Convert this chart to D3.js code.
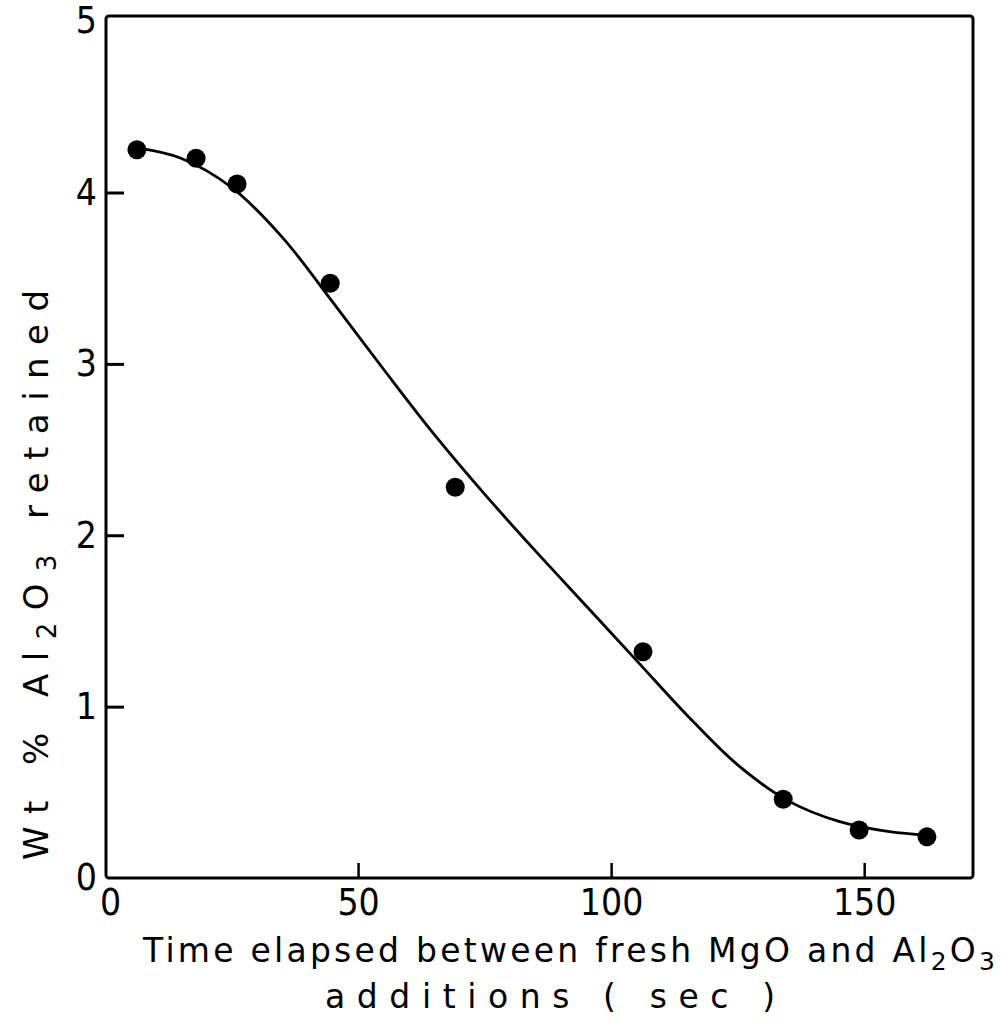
<!DOCTYPE html>
<html>
<head>
<meta charset="utf-8">
<script src="https://cdn.jsdelivr.net/npm/d3@7"></script>
<style>
  body { margin: 0; background: #fff; }
  text { font-family: "DejaVu Sans Condensed", "DejaVu Sans", sans-serif; fill: #000; }
  .title { font-family: "DejaVu Sans", sans-serif; }
</style>
</head>
<body>
<div id="chart"></div>
<script>
// measured points (time in s, wt % Al2O3 retained)
let timeSec = [6.3, 18.0, 26.1, 44.5, 69.2, 106.3, 134.0, 149.0, 162.4];
let wtPct = [4.25, 4.20, 4.05, 3.47, 2.28, 1.32, 0.46, 0.28, 0.24];

// hand-drawn fitted curve
let curveX = [6.3, 15, 25, 35, 45, 55, 65, 75, 85, 95, 105, 115, 125, 135, 145, 155, 162.4];
let curveY = [4.26, 4.20, 4.03, 3.74, 3.36, 2.97, 2.59, 2.24, 1.91, 1.59, 1.27, 0.95, 0.66, 0.45, 0.33, 0.27, 0.25];

let xTicks = [0, 50, 100, 150];
let yTicks = [0, 1, 2, 3, 4, 5];

const width = 1002, height = 1029;
const margin = {left: 106, right: 29, top: 16, bottom: 151};

let svg = d3.select("#chart")
    .append("svg")
    .attr("width", width)
    .attr("height", height);

let x = d3.scaleLinear()
    .domain([0, 171.5])
    .range([margin.left - 1, width - margin.right]);

let y = d3.scaleLinear()
    .domain([0, 5.03])
    .range([height - margin.bottom, margin.top]);

// y axis, ticks pointing inward
let yAxis = svg.append("g")
    .attr("transform", `translate(${margin.left}, 0)`)
    .call(d3.axisLeft(y).tickValues(yTicks).tickFormat(d3.format("d")).tickSize(-18).tickPadding(9));
yAxis.select(".domain").remove();
yAxis.selectAll("line").attr("stroke", "#000").attr("stroke-width", 3)
    .filter(d => d === 0 || d === 5).remove();
yAxis.selectAll("text").style("font-size", "37px");

// x axis
let xAxis = svg.append("g")
    .attr("transform", `translate(0, ${height - margin.bottom})`)
    .call(d3.axisBottom(x).tickValues(xTicks).tickFormat(d3.format("d")).tickSize(-15).tickPadding(11));
xAxis.select(".domain").remove();
xAxis.selectAll("line").attr("stroke", "#000").attr("stroke-width", 2.5)
    .filter(d => d === 0).remove();
xAxis.selectAll("text").style("font-size", "37px")
    .filter(d => d === 0).attr("x", 5);

// frame
svg.append("rect")
    .attr("x", margin.left)
    .attr("y", margin.top)
    .attr("width", width - margin.right - margin.left)
    .attr("height", height - margin.bottom - margin.top)
    .attr("rx", 3)
    .attr("fill", "none")
    .attr("stroke", "#000")
    .attr("stroke-width", 3);

// fitted curve
let line = d3.line()
    .x(d => x(d[0]))
    .y(d => y(d[1]))
    .curve(d3.curveCatmullRom.alpha(0.5));

svg.append("path")
    .datum(curveX.map((v, i) => [v, curveY[i]]))
    .attr("d", line)
    .attr("fill", "none")
    .attr("stroke", "#000")
    .attr("stroke-width", 2.8);

// data points
svg.selectAll("circle.pt")
    .data(timeSec.map((v, i) => [v, wtPct[i]]))
    .enter()
    .append("circle")
    .attr("class", "pt")
    .attr("cx", d => x(d[0]))
    .attr("cy", d => y(d[1]))
    .attr("r", 9.5)
    .attr("fill", "#000");

// x title, two lines
let xt1 = svg.append("text")
    .attr("class", "title")
    .attr("x", 143)
    .attr("y", 962)
    .attr("textLength", 852)
    .attr("lengthAdjust", "spacing")
    .style("font-size", "33px");
xt1.append("tspan").text("Time elapsed between fresh MgO and Al");
xt1.append("tspan").attr("dy", 8).style("font-size", "25px").text("2");
xt1.append("tspan").attr("dy", -8).text("O");
xt1.append("tspan").attr("dy", 8).style("font-size", "25px").text("3");

svg.append("text")
    .attr("class", "title")
    .attr("x", 325)
    .attr("y", 1008)
    .attr("textLength", 450)
    .attr("lengthAdjust", "spacing")
    .style("font-size", "33px")
    .text("additions ( sec )");

// y title
let yt = svg.append("text")
    .attr("class", "title")
    .attr("transform", "translate(48, 860) rotate(-90)")
    .attr("textLength", 570)
    .attr("lengthAdjust", "spacing")
    .style("font-size", "34px");
yt.append("tspan").text("Wt % Al");
yt.append("tspan").attr("dy", 8).style("font-size", "26px").text("2");
yt.append("tspan").attr("dy", -8).text("O");
yt.append("tspan").attr("dy", 8).style("font-size", "26px").text("3");
yt.append("tspan").attr("dy", -8).text("  retained");
</script>
</body>
</html>
